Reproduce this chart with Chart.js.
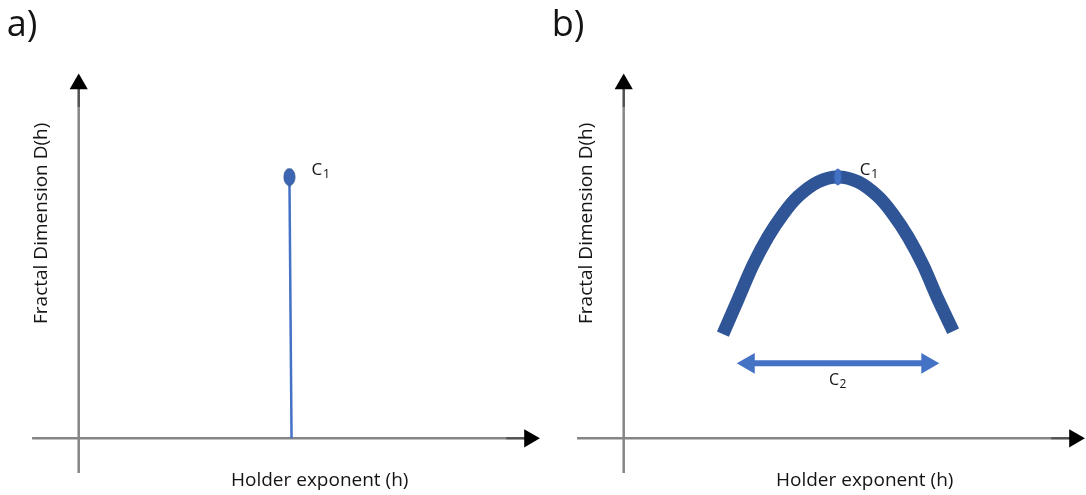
<!DOCTYPE html>
<html>
<head>
<meta charset="utf-8">
<script src="https://cdn.jsdelivr.net/npm/chart.js@4.4.1/dist/chart.umd.min.js"></script>
<style>
html,body{margin:0;padding:0;background:#fff;overflow:hidden}
#wrap{position:relative;width:1086px;height:495px;overflow:hidden;background:#fff}
.panel{position:absolute;top:0;width:543px;height:495px}
</style>
</head>
<body>
<div id="wrap">
  <div class="panel" style="left:0"><canvas id="ca" width="543" height="495"></canvas></div>
  <div class="panel" style="left:545px"><canvas id="cb" width="543" height="495"></canvas></div>
</div>
<script>
// ---- data (h = Holder exponent, D = fractal dimension) ----
const panelLabels = ['a)', 'b)'];
const xTitle = 'Holder exponent (h)';
const yTitle = 'Fractal Dimension D(h)';

// axes: start, start of darker stem, arrow head
const xAxisH = [-0.11, 1.008, 1.063];
const xAxisD = [0, 0, 0];
const yAxisH = [0, 0, 0];
const yAxisD = [-0.133, 1.266, 1.356];

// panel a: monofractal spike
const spikeH = [0.502, 0.497];
const spikeD = [0, 1.0];

// panel b: multifractal spectrum
const specH = [0.234, 0.270, 0.305, 0.340, 0.376, 0.411, 0.458, 0.505, 0.553, 0.600, 0.635, 0.671, 0.706, 0.741, 0.777];
const specD = [0.399, 0.533, 0.663, 0.770, 0.858, 0.925, 0.981, 1.0, 0.981, 0.925, 0.858, 0.770, 0.663, 0.533, 0.410];
const peakH = [0.505];
const peakD = [1.0];

// panel b: spectrum width C2
const widthH = [0.295, 0.716];
const widthD = [0.287, 0.287];

const labelC1 = ['C', '1'];
const labelC2 = ['C', '2'];

// ---- helpers ----
const pts = (xs, ys) => xs.map((x, i) => ({x: x, y: ys[i]}));
function ellipseStyle(w, h, fill, stroke) {
  const c = document.createElement('canvas');
  c.width = w + 2; c.height = h + 2;
  const g = c.getContext('2d');
  g.beginPath();
  g.ellipse(c.width / 2, c.height / 2, w / 2, h / 2, 0, 0, Math.PI * 2);
  g.fillStyle = fill; g.fill();
  if (stroke) { g.strokeStyle = stroke; g.lineWidth = 1; g.stroke(); }
  return c;
}

const FONT = '"Open Sans", "DejaVu Sans", sans-serif';
const AXIS_GREY = '#858585';

function axisDatasets() {
  const common = {
    showLine: true, borderWidth: 2.5, borderColor: AXIS_GREY,
    pointStyle: 'triangle', pointBackgroundColor: '#000', pointBorderWidth: 0,
    pointRadius: [0, 0, 10.5], order: 10,
    segment: { borderColor: c => c.p0DataIndex === 1 ? '#505050' : AXIS_GREY }
  };
  return [
    Object.assign({}, common, { data: pts(xAxisH, xAxisD), rotation: [0, 0, 90] }),
    Object.assign({}, common, { data: pts(yAxisH, yAxisD), rotation: [0, 0, 0] })
  ];
}

function subLabel(ctx, parts, x, y, big, small) {
  ctx.font = big + 'px ' + FONT;
  ctx.textAlign = 'left';
  ctx.textBaseline = 'alphabetic';
  ctx.fillText(parts[0], x, y);
  const w = ctx.measureText(parts[0]).width;
  ctx.font = small + 'px ' + FONT;
  ctx.fillText(parts[1], x + w + 0.5, y + 3);
}

function textPlugin(idx) {
  return {
    id: 'texts' + idx,
    afterDatasetsDraw(chart) {
      const ctx = chart.ctx;
      const xs = chart.scales.x, ys = chart.scales.y;
      const x0 = xs.getPixelForValue(0), y0 = ys.getPixelForValue(0);
      ctx.save();
      ctx.fillStyle = '#141414';
      ctx.font = '36px ' + FONT;
      ctx.textAlign = 'left';
      ctx.textBaseline = 'alphabetic';
      ctx.fillText(panelLabels[idx], x0 - 72, 36);
      ctx.font = '19px ' + FONT;
      ctx.textAlign = 'center';
      ctx.fillText(xTitle, x0 + 241, y0 + 48);
      ctx.save();
      ctx.translate(x0 - 32, y0 - 215);
      ctx.rotate(-Math.PI / 2);
      ctx.fillText(yTitle, 0, 0);
      ctx.restore();
      const px = xs.getPixelForValue(idx === 0 ? spikeH[1] : peakH[0]);
      const py = ys.getPixelForValue(idx === 0 ? spikeD[1] : peakD[0]);
      subLabel(ctx, labelC1, px + 22, py - 2.5, 17, 13);
      if (idx === 1) {
        const cx = (xs.getPixelForValue(widthH[0]) + xs.getPixelForValue(widthH[1])) / 2;
        const cy = ys.getPixelForValue(widthD[0]);
        subLabel(ctx, labelC2, cx - 9, cy + 21.5, 16, 12);
      }
      ctx.restore();
    }
  };
}

function baseOptions() {
  return {
    responsive: false,
    animation: false,
    devicePixelRatio: 1,
    events: [],
    layout: { padding: 0, autoPadding: false },
    plugins: { legend: { display: false }, tooltip: { enabled: false }, title: { display: false } },
    scales: {
      x: { type: 'linear', display: false, min: -78.7 / 424, max: (543 - 78.7) / 424 },
      y: { type: 'linear', display: false, min: (438.3 - 495) / 261.3, max: 438.3 / 261.3 }
    }
  };
}

new Chart(document.getElementById('ca'), {
  type: 'scatter',
  data: {
    datasets: [
      { data: pts([spikeH[1]], [spikeD[1]]), pointStyle: ellipseStyle(11, 17, '#3C66B3', '#2F5597'), pointRadius: 8, order: 0 },
      { data: pts(spikeH, spikeD), showLine: true, borderColor: '#4472C4', borderWidth: 2.5, pointRadius: 0, order: 1 },
    ].concat(axisDatasets())
  },
  options: baseOptions(),
  plugins: [textPlugin(0)]
});

new Chart(document.getElementById('cb'), {
  type: 'scatter',
  data: {
    datasets: [
      { data: pts(peakH, peakD), pointStyle: ellipseStyle(7, 16, '#4472C4', '#3A66B6'), pointRadius: 8, order: 0 },
      { data: pts(specH, specD), showLine: true, borderColor: '#2F5597', borderWidth: 13, borderCapStyle: 'butt', borderJoinStyle: 'round', tension: 0.3, pointRadius: 0, order: 1 },
      { data: pts(widthH, widthD), showLine: true, borderColor: '#4472C4', borderWidth: 6, pointStyle: 'triangle', pointRadius: 12, pointBackgroundColor: '#4472C4', pointBorderWidth: 0, rotation: [-90, 90], order: 2 },
    ].concat(axisDatasets())
  },
  options: baseOptions(),
  plugins: [textPlugin(1)]
});
</script>
</body>
</html>
